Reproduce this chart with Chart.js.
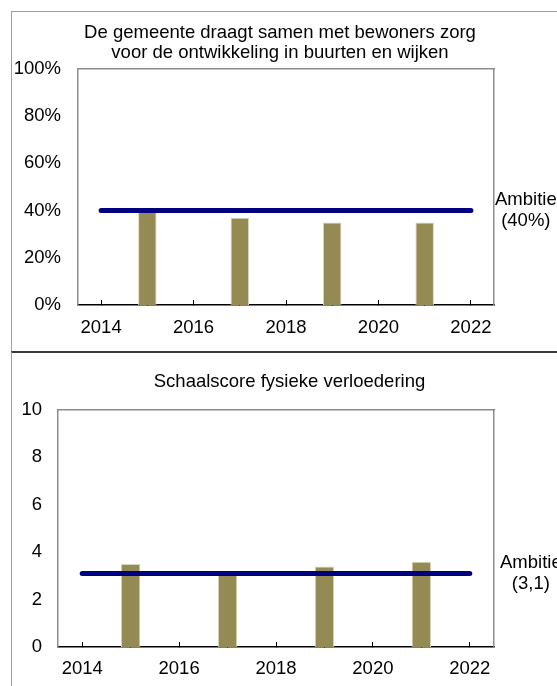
<!DOCTYPE html>
<html>
<head>
<meta charset="utf-8">
<script src="https://cdn.jsdelivr.net/npm/chart.js@4.4.0/dist/chart.umd.min.js"></script>
<style>
    html, body { margin: 0; padding: 0; background: #fff; width: 557px; height: 686px; overflow: hidden; }
    .paneel { position: absolute; box-sizing: border-box; }
    #paneel1 { left: 11px; top: 11px; width: 560px; height: 342px; border-left: 1.5px solid #a0a0a0; border-top: 1.5px solid #a0a0a0; }
    #paneel2 { left: 11px; top: 351px; width: 560px; height: 340px; border-left: 1.5px solid #a0a0a0; border-top: 2px solid #3a3a3a; }
    canvas { position: absolute; left: 0; }
    #grafiekZorg { top: 0; }
    #grafiekVerloedering { top: 352px; }
</style>
</head>
<body>
<div class="paneel" id="paneel1"></div>
<div class="paneel" id="paneel2"></div>
<canvas id="grafiekZorg" width="560" height="352"></canvas>
<canvas id="grafiekVerloedering" width="579" height="334"></canvas>
<script>
// jaren met een meting en alle jaartallen op de x-as
const jaren = [2015, 2017, 2019, 2021];
const jaarTicks = [2014, 2015, 2016, 2017, 2018, 2019, 2020, 2021, 2022];
const jaarLabels = [2014, 2016, 2018, 2020, 2022];

// grafiek 1: gemeente en bewoners
const zorgTitel = ['De gemeente draagt samen met bewoners zorg', 'voor de ontwikkeling in buurten en wijken'];
const zorgWaarden = [40, 37, 35, 35];
const zorgAmbitie = 40;
const zorgAmbitieLabel = ['Ambitie', '(40%)'];
const zorgTicksY = [0, 20, 40, 60, 80, 100];

// grafiek 2: fysieke verloedering
const verloederingTitel = 'Schaalscore fysieke verloedering';
const verloederingWaarden = [3.5, 3.1, 3.4, 3.6];
const verloederingAmbitie = 3.1;
const verloederingAmbitieLabel = ['Ambitie', '(3,1)'];
const verloederingTicksY = [0, 2, 4, 6, 8, 10];

Chart.defaults.font.family = "'Liberation Sans', Arial, sans-serif";
Chart.defaults.font.size = 18.5;
Chart.defaults.color = '#000';

const maakGrafiek = (canvas, instelling) => {
    const yMin = instelling.ticksY[0];
    const yMax = instelling.ticksY[instelling.ticksY.length - 1];
    return new Chart(canvas, {
        type: 'bar',
        data: {
            datasets: [{
                type: 'line',
                label: 'Ambitie',
                data: [
                    { x: jaarTicks[0], y: instelling.ambitie },
                    { x: jaarTicks[jaarTicks.length - 1], y: instelling.ambitie }
                ],
                borderColor: '#000080',
                borderWidth: 5,
                borderCapStyle: 'round',
                pointRadius: 0
            }, {
                label: 'Meting',
                data: jaren.map((jaar, i) => ({ x: jaar, y: instelling.waarden[i] })),
                backgroundColor: '#948A54',
                borderColor: '#d9d5bd',
                borderWidth: 1,
                barPercentage: 0.4,
                categoryPercentage: 1
            }]
        },
        options: {
            responsive: false,
            animation: false,
            layout: { padding: 0 },
            plugins: {
                legend: { display: false },
                tooltip: { enabled: false },
                title: {
                    display: true,
                    text: instelling.titel,
                    color: '#000',
                    font: { size: 18.5, weight: 'normal', lineHeight: '20px' },
                    padding: instelling.titelPadding
                }
            },
            scales: {
                x: {
                    type: 'linear',
                    position: 'bottom',
                    min: jaarTicks[0] - 0.5,
                    max: jaarTicks[jaarTicks.length - 1] + 0.5,
                    offset: false,
                    z: 1,
                    afterBuildTicks: (scale) => { scale.ticks = jaarTicks.map(v => ({ value: v })); },
                    afterFit: (scale) => { scale.height = instelling.xHoogte; },
                    ticks: {
                        autoSkip: false,
                        maxRotation: 0,
                        padding: instelling.xPadding,
                        callback: (value) => jaarLabels.includes(value) ? String(value) : ''
                    },
                    grid: { display: true, offset: false, drawOnChartArea: false, drawTicks: true, tickLength: -5, color: '#000', lineWidth: 1 },
                    border: { display: true, color: '#000', width: 1.5 }
                },
                x2: {
                    type: 'linear',
                    position: 'top',
                    min: 0,
                    max: 1,
                    afterFit: (scale) => { scale.height = 0; },
                    ticks: { display: false },
                    grid: { display: false, drawTicks: false },
                    border: { display: true, color: '#8c8c8c', width: 1.5 }
                },
                y: {
                    position: 'left',
                    min: yMin,
                    max: yMax,
                    afterBuildTicks: (scale) => { scale.ticks = instelling.ticksY.map(v => ({ value: v })); },
                    afterFit: (scale) => { scale.width = instelling.yBreedte; },
                    ticks: {
                        padding: instelling.yPadding,
                        callback: (value) => value + instelling.eenheid
                    },
                    grid: { display: false, drawTicks: false },
                    border: { display: true, color: '#8c8c8c', width: 1.5 }
                },
                y2: {
                    position: 'right',
                    min: yMin,
                    max: yMax,
                    afterBuildTicks: (scale) => { scale.ticks = [{ value: instelling.ambitie }]; },
                    afterFit: (scale) => { scale.width = instelling.rechtsBreedte; },
                    ticks: {
                        crossAlign: 'center',
                        padding: instelling.ambitiePadding,
                        font: { size: 18.5, lineHeight: '21px' },
                        callback: () => instelling.ambitieLabel
                    },
                    grid: { display: false, drawTicks: false },
                    border: { display: true, color: '#8c8c8c', width: 1.5 }
                }
            }
        }
    });
};

maakGrafiek(document.getElementById('grafiekZorg'), {
    titel: zorgTitel,
    titelPadding: { top: 23, bottom: 6 },
    waarden: zorgWaarden,
    ambitie: zorgAmbitie,
    ambitieLabel: zorgAmbitieLabel,
    ticksY: zorgTicksY,
    eenheid: '%',
    yBreedte: 78,
    yPadding: 17,
    xHoogte: 47,
    xPadding: 17,
    rechtsBreedte: 66,
    ambitiePadding: 1
});

maakGrafiek(document.getElementById('grafiekVerloedering'), {
    titel: verloederingTitel,
    titelPadding: { top: 20, bottom: 18 },
    waarden: verloederingWaarden,
    ambitie: verloederingAmbitie,
    ambitieLabel: verloederingAmbitieLabel,
    ticksY: verloederingTicksY,
    eenheid: '',
    yBreedte: 58,
    yPadding: 16,
    xHoogte: 39,
    xPadding: 15.5,
    rechtsBreedte: 85,
    ambitiePadding: 6
});
</script>
</body>
</html>
